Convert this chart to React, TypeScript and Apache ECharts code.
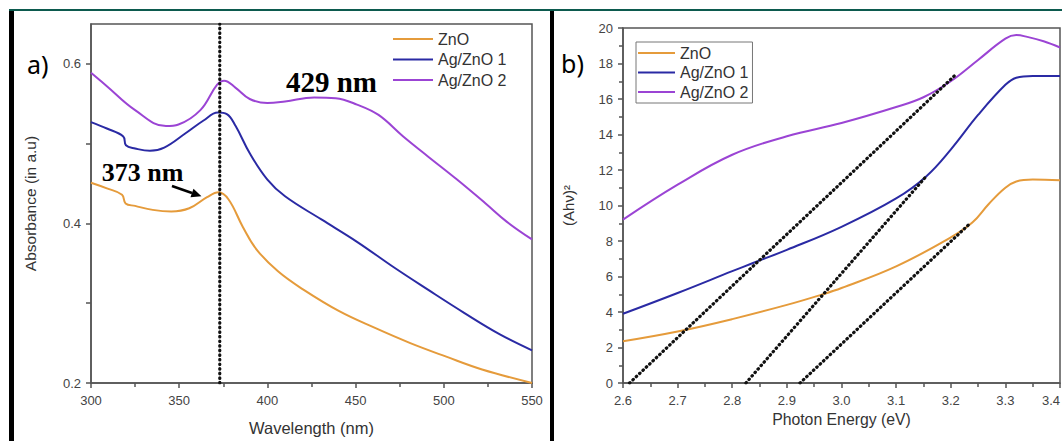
import React, { useEffect, useRef } from "react";
import * as echarts from "echarts";

// ---------- Panel a) : absorbance spectra ----------
const wavelengthZnO = [300, 309, 317.6, 319.6, 325, 335, 345.5, 355.7, 365.8, 372.3, 378, 386, 394, 406, 420.4, 440.7, 461, 481, 501.4, 521.7, 550];
const absorbanceZnO = [0.451, 0.444, 0.436, 0.425, 0.422, 0.417, 0.415, 0.419, 0.433, 0.439, 0.43, 0.396, 0.367, 0.34, 0.317, 0.29, 0.269, 0.25, 0.233, 0.217, 0.2];

const wavelengthAg1 = [300, 309, 318.3, 319.8, 325, 333.4, 341.5, 353.6, 363.8, 371.9, 377, 382, 390, 400, 410, 430.6, 450.8, 471, 491, 511.5, 531.8, 550];
const absorbanceAg1 = [0.527, 0.519, 0.509, 0.498, 0.494, 0.491, 0.495, 0.513, 0.529, 0.539, 0.537, 0.522, 0.488, 0.455, 0.434, 0.405, 0.377, 0.346, 0.317, 0.288, 0.261, 0.241];

const wavelengthAg2 = [300, 309, 325, 342.5, 349.6, 362, 371.5, 375.5, 382, 390, 400, 410, 426.5, 438.7, 450.8, 463, 477, 491, 507.5, 523.7, 535.8, 550];
const absorbanceAg2 = [0.589, 0.572, 0.542, 0.522, 0.524, 0.542, 0.574, 0.579, 0.57, 0.556, 0.551, 0.553, 0.558, 0.557, 0.549, 0.536, 0.509, 0.484, 0.455, 0.425, 0.402, 0.38];

const peakLineX = [373, 373];
const peakLineY = [0.2, 0.65];

const wavelengthTicks = [300, 350, 400, 450, 500, 550];
const absorbanceLabels = [0.2, 0.4, 0.6];
const absorbanceTicks = [0.2, 0.3, 0.4, 0.5, 0.6];

// annotation anchors (data coordinates of panel a)
const label373 = { text: "373 nm", at: [329.2, 0.464] };
const label429 = { text: "429 nm", at: [436.3, 0.577] };
const arrowFrom = [345.9, 0.447];
const arrowTo = [362.6, 0.434];

// ---------- Panel b) : Tauc plot ----------
const energyZnO = [2.6, 2.7, 2.8, 2.9, 2.964, 3.0, 3.1, 3.2, 3.24, 3.27, 3.3, 3.32, 3.35, 3.4];
const taucZnO = [2.35, 2.9, 3.6, 4.4, 4.98, 5.35, 6.57, 8.2, 9.05, 10.1, 11.0, 11.35, 11.46, 11.42];

const energyAg1 = [2.6, 2.7, 2.8, 2.838, 2.9, 3.0, 3.1, 3.155, 3.2, 3.25, 3.3, 3.32, 3.35, 3.4];
const taucAg1 = [3.9, 5.07, 6.3, 6.76, 7.5, 8.8, 10.4, 11.64, 13.15, 15.1, 16.8, 17.2, 17.3, 17.3];

const energyAg2 = [2.6, 2.7, 2.8, 2.9, 3.0, 3.1, 3.15, 3.2, 3.25, 3.3, 3.32, 3.34, 3.37, 3.4];
const taucAg2 = [9.2, 11.17, 12.86, 13.9, 14.65, 15.55, 16.1, 17.0, 18.2, 19.4, 19.6, 19.5, 19.25, 18.9];

const tangent1X = [2.612, 3.21];
const tangent1Y = [0, 17.4];
const tangent2X = [2.825, 3.155];
const tangent2Y = [0, 11.64];
const tangent3X = [2.924, 3.236];
const tangent3Y = [0, 9.01];

const seriesNames = ["ZnO", "Ag/ZnO 1", "Ag/ZnO 2"];
const seriesColors = ["#E59B3B", "#2A2AA4", "#9B44D4"];

const SANS = "'Liberation Sans', Arial, sans-serif";
const SERIF = "'Liberation Serif', 'Times New Roman', serif";

const pair = (xs: number[], ys: number[]) => xs.map((x, i) => [x, ys[i]]);

export default function App() {
  const ref = useRef<HTMLDivElement>(null);

  useEffect(() => {
    document.body.style.margin = "0";
    const chart = echarts.init(ref.current!, null, { renderer: "svg" });

    const axisLineStyle = { color: "#555", width: 1.5 };
    const curve = (name: string, color: string, data: number[][], idx: number) => ({
      name,
      type: "line",
      xAxisIndex: idx,
      yAxisIndex: idx,
      data,
      showSymbol: false,
      symbol: "none",
      smooth: 0.4,
      color,
      lineStyle: { color, width: 2 },
      silent: true,
    });
    const dotted = (name: string, data: number[][], idx: number) => ({
      name,
      type: "line",
      xAxisIndex: idx,
      yAxisIndex: idx,
      data,
      showSymbol: false,
      symbol: "none",
      color: "#000",
      lineStyle: { color: "#111", width: 3.2, type: [0.6, 4], cap: "round" },
      silent: true,
      z: 5,
    });

    const legendBase = {
      data: seriesNames,
      orient: "vertical",
      icon: "rect",
      itemHeight: 2,
      textStyle: { fontSize: 16, fontFamily: SANS, color: "#333" },
    };

    chart.setOption({
      animation: false,
      backgroundColor: "#fff",
      grid: [
        { left: 91, right: 530, top: 24, bottom: 58, show: true, borderColor: "#555", borderWidth: 1.5, backgroundColor: "transparent", containLabel: false, outerBoundsMode: "none" },
        { left: 623, right: 2, top: 28, bottom: 58, show: true, borderColor: "#555", borderWidth: 1.5, backgroundColor: "transparent", containLabel: false, outerBoundsMode: "none" },
      ],
      legend: [
        { ...legendBase, left: 393, top: 31, itemWidth: 40, itemGap: 4.5, padding: 0 },
        { ...legendBase, left: 636, top: 42, itemWidth: 37, itemGap: 3.5, padding: [3, 4, 3, 2], borderColor: "#777", borderWidth: 1 },
      ],
      xAxis: [
        {
          type: "value",
          gridIndex: 0,
          min: wavelengthTicks[0],
          max: wavelengthTicks[wavelengthTicks.length - 1],
          interval: 50,
          axisLine: { lineStyle: axisLineStyle },
          axisTick: { length: 5, lineStyle: axisLineStyle },
          minorTick: { show: true, splitNumber: 2, length: 4, lineStyle: axisLineStyle },
          splitLine: { show: false },
          axisLabel: { fontSize: 13, fontFamily: SANS, color: "#444", margin: 11 },
          name: "Wavelength (nm)",
          nameLocation: "middle",
          nameGap: 36,
          nameTextStyle: { fontSize: 16.5, fontFamily: SANS, color: "#333" },
        },
        {
          type: "value",
          gridIndex: 1,
          min: 2.6,
          max: 3.4,
          interval: 0.1,
          axisLine: { lineStyle: axisLineStyle },
          axisTick: { length: 5, lineStyle: axisLineStyle },
          minorTick: { show: true, splitNumber: 2, length: 4, lineStyle: axisLineStyle },
          splitLine: { show: false },
          axisLabel: { fontSize: 13, fontFamily: SANS, color: "#444", margin: 11, alignMaxLabel: "right", formatter: (v: number) => v.toFixed(1) },
          name: "Photon Energy (eV)",
          nameLocation: "middle",
          nameGap: 26,
          nameTextStyle: { fontSize: 15.8, fontFamily: SANS, color: "#333" },
        },
      ],
      yAxis: [
        {
          type: "value",
          gridIndex: 0,
          min: 0.2,
          max: 0.65,
          axisLine: { show: true, lineStyle: axisLineStyle },
          axisTick: { show: true, length: 5, lineStyle: axisLineStyle, customValues: absorbanceTicks },
          splitLine: { show: false },
          axisLabel: { fontSize: 13, fontFamily: SANS, color: "#444", margin: 10, customValues: absorbanceLabels, formatter: (v: number) => v.toFixed(1) },
          name: "Absorbance (in a.u)",
          nameLocation: "middle",
          nameGap: 53,
          nameTextStyle: { fontSize: 15.5, fontFamily: SANS, color: "#333" },
        },
        {
          type: "value",
          gridIndex: 1,
          min: 0,
          max: 20,
          interval: 2,
          axisLine: { show: true, lineStyle: axisLineStyle },
          axisTick: { show: true, length: 5, lineStyle: axisLineStyle },
          minorTick: { show: true, splitNumber: 2, length: 4, lineStyle: axisLineStyle },
          splitLine: { show: false },
          axisLabel: { fontSize: 13, fontFamily: SANS, color: "#444", margin: 10 },
          name: "(Ahν)²",
          nameLocation: "middle",
          nameGap: 47,
          nameTextStyle: { fontSize: 15, fontFamily: SANS, color: "#333" },
        },
      ],
      series: [
        curve(seriesNames[0], seriesColors[0], pair(wavelengthZnO, absorbanceZnO), 0),
        curve(seriesNames[1], seriesColors[1], pair(wavelengthAg1, absorbanceAg1), 0),
        curve(seriesNames[2], seriesColors[2], pair(wavelengthAg2, absorbanceAg2), 0),
        dotted("peak 373 nm", pair(peakLineX, peakLineY), 0),
        curve(seriesNames[0], seriesColors[0], pair(energyZnO, taucZnO), 1),
        curve(seriesNames[1], seriesColors[1], pair(energyAg1, taucAg1), 1),
        curve(seriesNames[2], seriesColors[2], pair(energyAg2, taucAg2), 1),
        dotted("tangent 1", pair(tangent1X, tangent1Y), 1),
        dotted("tangent 2", pair(tangent2X, tangent2Y), 1),
        dotted("tangent 3", pair(tangent3X, tangent3Y), 1),
      ],
    });

    const toPx = (p: number[]) => chart.convertToPixel({ xAxisIndex: 0, yAxisIndex: 0 }, p) as number[];
    const p373 = toPx(label373.at);
    const p429 = toPx(label429.at);
    const a0 = toPx(arrowFrom);
    const a1 = toPx(arrowTo);
    const dx = a1[0] - a0[0];
    const dy = a1[1] - a0[1];
    const len = Math.hypot(dx, dy);
    const ux = dx / len;
    const uy = dy / len;
    const headL = 10;
    const headW = 4.5;
    const bx = a1[0] - ux * headL;
    const by = a1[1] - uy * headL;

    chart.setOption({
      graphic: [
        { type: "rect", shape: { x: 9, y: 9, width: 1053, height: 2 }, style: { fill: "#0C5A4E" }, silent: true },
        { type: "rect", shape: { x: 9, y: 11, width: 5, height: 430 }, style: { fill: "#000" }, silent: true },
        { type: "rect", shape: { x: 550, y: 11, width: 4, height: 430 }, style: { fill: "#000" }, silent: true },
        { type: "text", x: 27, y: 64, style: { text: "a)", fontSize: 25, fontFamily: "'Noto Sans', 'Open Sans', sans-serif", fill: "#000", verticalAlign: "middle" }, silent: true },
        { type: "text", x: 561, y: 63, style: { text: "b)", fontSize: 25, fontFamily: "'Noto Sans', 'Open Sans', sans-serif", fill: "#000", verticalAlign: "middle" }, silent: true },
        { type: "text", x: p373[0], y: p373[1], style: { text: label373.text, fontSize: 26, fontWeight: "bold", fontFamily: SERIF, fill: "#000", align: "center", verticalAlign: "middle" }, silent: true },
        { type: "text", x: p429[0], y: p429[1], style: { text: label429.text, fontSize: 29, fontWeight: "bold", fontFamily: SERIF, fill: "#000", align: "center", verticalAlign: "middle" }, silent: true },
        { type: "line", shape: { x1: a0[0], y1: a0[1], x2: bx, y2: by }, style: { stroke: "#000", lineWidth: 2.5 }, silent: true },
        {
          type: "polygon",
          shape: { points: [[a1[0], a1[1]], [bx - uy * headW, by + ux * headW], [bx + uy * headW, by - ux * headW]] },
          style: { fill: "#000" },
          silent: true,
        },
      ],
    });

    return () => chart.dispose();
  }, []);

  return <div ref={ref} style={{ width: 1062, height: 441 }} />;
}
